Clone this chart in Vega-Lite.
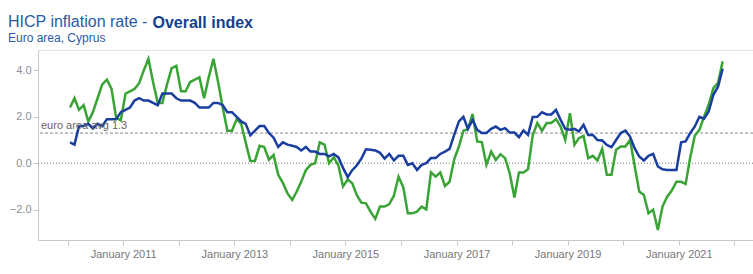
{
  "$schema": "https://vega.github.io/schema/vega-lite/v6.json",
  "width": 715,
  "height": 190,
  "autosize": {"type": "none"},
  "padding": {"left": 38, "top": 50, "right": 0, "bottom": 34},
  "background": "white",
  "config": {"font": "Liberation Sans", "view": {"stroke": "#e3e3e3"}},
  "title": {
    "text": "HICP inflation rate -",
    "subtitle": "Euro area, Cyprus",
    "anchor": "start",
    "frame": "group",
    "dx": -30,
    "dy": 30,
    "offset": 0,
    "font": "Liberation Sans",
    "fontSize": 16,
    "fontWeight": "normal",
    "color": "#2a5aa8",
    "subtitleFont": "Liberation Sans",
    "subtitleFontSize": 12,
    "subtitleColor": "#2a5aa8",
    "subtitlePadding": 3
  },
  "data": {"values": [
    {"m": "2010-01", "ea": 0.9, "cy": 2.4},
    {"m": "2010-02", "ea": 0.8, "cy": 2.8},
    {"m": "2010-03", "ea": 1.6, "cy": 2.3},
    {"m": "2010-04", "ea": 1.6, "cy": 2.5},
    {"m": "2010-05", "ea": 1.7, "cy": 1.8},
    {"m": "2010-06", "ea": 1.5, "cy": 2.2},
    {"m": "2010-07", "ea": 1.7, "cy": 2.8},
    {"m": "2010-08", "ea": 1.6, "cy": 3.4},
    {"m": "2010-09", "ea": 1.9, "cy": 3.6},
    {"m": "2010-10", "ea": 1.9, "cy": 3.2},
    {"m": "2010-11", "ea": 1.9, "cy": 1.95},
    {"m": "2010-12", "ea": 2.2, "cy": 1.85},
    {"m": "2011-01", "ea": 2.3, "cy": 3.0},
    {"m": "2011-02", "ea": 2.4, "cy": 3.1},
    {"m": "2011-03", "ea": 2.7, "cy": 3.2},
    {"m": "2011-04", "ea": 2.8, "cy": 3.45},
    {"m": "2011-05", "ea": 2.7, "cy": 4.0},
    {"m": "2011-06", "ea": 2.7, "cy": 4.5},
    {"m": "2011-07", "ea": 2.6, "cy": 3.5},
    {"m": "2011-08", "ea": 2.5, "cy": 2.6},
    {"m": "2011-09", "ea": 3.0, "cy": 2.6},
    {"m": "2011-10", "ea": 3.0, "cy": 3.4},
    {"m": "2011-11", "ea": 3.0, "cy": 4.1},
    {"m": "2011-12", "ea": 2.8, "cy": 4.2},
    {"m": "2012-01", "ea": 2.7, "cy": 3.1},
    {"m": "2012-02", "ea": 2.7, "cy": 3.1},
    {"m": "2012-03", "ea": 2.7, "cy": 3.5},
    {"m": "2012-04", "ea": 2.6, "cy": 3.6},
    {"m": "2012-05", "ea": 2.4, "cy": 3.7},
    {"m": "2012-06", "ea": 2.4, "cy": 2.8},
    {"m": "2012-07", "ea": 2.4, "cy": 3.7},
    {"m": "2012-08", "ea": 2.6, "cy": 4.5},
    {"m": "2012-09", "ea": 2.6, "cy": 3.5},
    {"m": "2012-10", "ea": 2.5, "cy": 2.4},
    {"m": "2012-11", "ea": 2.2, "cy": 1.4},
    {"m": "2012-12", "ea": 2.2, "cy": 1.4},
    {"m": "2013-01", "ea": 2.0, "cy": 1.9},
    {"m": "2013-02", "ea": 1.8, "cy": 1.7},
    {"m": "2013-03", "ea": 1.7, "cy": 0.9},
    {"m": "2013-04", "ea": 1.2, "cy": 0.1},
    {"m": "2013-05", "ea": 1.4, "cy": 0.1},
    {"m": "2013-06", "ea": 1.6, "cy": 0.75},
    {"m": "2013-07", "ea": 1.6, "cy": 0.7},
    {"m": "2013-08", "ea": 1.3, "cy": 0.15},
    {"m": "2013-09", "ea": 1.1, "cy": 0.35},
    {"m": "2013-10", "ea": 0.7, "cy": -0.5},
    {"m": "2013-11", "ea": 0.9, "cy": -0.85},
    {"m": "2013-12", "ea": 0.8, "cy": -1.3},
    {"m": "2014-01", "ea": 0.75, "cy": -1.58},
    {"m": "2014-02", "ea": 0.7, "cy": -1.22},
    {"m": "2014-03", "ea": 0.55, "cy": -0.8},
    {"m": "2014-04", "ea": 0.7, "cy": -0.3},
    {"m": "2014-05", "ea": 0.5, "cy": -0.07},
    {"m": "2014-06", "ea": 0.5, "cy": 0.0},
    {"m": "2014-07", "ea": 0.4, "cy": 0.9},
    {"m": "2014-08", "ea": 0.4, "cy": 0.8},
    {"m": "2014-09", "ea": 0.3, "cy": 0.0},
    {"m": "2014-10", "ea": 0.4, "cy": 0.26},
    {"m": "2014-11", "ea": 0.25, "cy": -0.1},
    {"m": "2014-12", "ea": -0.2, "cy": -1.0},
    {"m": "2015-01", "ea": -0.6, "cy": -0.7},
    {"m": "2015-02", "ea": -0.3, "cy": -0.86},
    {"m": "2015-03", "ea": -0.1, "cy": -1.37},
    {"m": "2015-04", "ea": 0.2, "cy": -1.7},
    {"m": "2015-05", "ea": 0.6, "cy": -1.73},
    {"m": "2015-06", "ea": 0.58, "cy": -2.1},
    {"m": "2015-07", "ea": 0.55, "cy": -2.4},
    {"m": "2015-08", "ea": 0.45, "cy": -1.87},
    {"m": "2015-09", "ea": 0.2, "cy": -1.87},
    {"m": "2015-10", "ea": 0.4, "cy": -1.76},
    {"m": "2015-11", "ea": 0.12, "cy": -1.4},
    {"m": "2015-12", "ea": 0.32, "cy": -0.58},
    {"m": "2016-01", "ea": 0.32, "cy": -1.04},
    {"m": "2016-02", "ea": -0.07, "cy": -2.16},
    {"m": "2016-03", "ea": 0.0, "cy": -2.16},
    {"m": "2016-04", "ea": -0.29, "cy": -2.09},
    {"m": "2016-05", "ea": -0.07, "cy": -1.87},
    {"m": "2016-06", "ea": 0.0, "cy": -1.99},
    {"m": "2016-07", "ea": 0.22, "cy": -0.39},
    {"m": "2016-08", "ea": 0.22, "cy": -0.58},
    {"m": "2016-09", "ea": 0.4, "cy": -0.4},
    {"m": "2016-10", "ea": 0.5, "cy": -0.98},
    {"m": "2016-11", "ea": 0.62, "cy": -0.8},
    {"m": "2016-12", "ea": 1.22, "cy": 0.17},
    {"m": "2017-01", "ea": 1.8, "cy": 0.72},
    {"m": "2017-02", "ea": 2.0, "cy": 1.4},
    {"m": "2017-03", "ea": 1.48, "cy": 1.47},
    {"m": "2017-04", "ea": 1.87, "cy": 2.12},
    {"m": "2017-05", "ea": 1.44, "cy": 0.94},
    {"m": "2017-06", "ea": 1.3, "cy": 0.91},
    {"m": "2017-07", "ea": 1.3, "cy": -0.07},
    {"m": "2017-08", "ea": 1.48, "cy": 0.5},
    {"m": "2017-09", "ea": 1.58, "cy": 0.14},
    {"m": "2017-10", "ea": 1.44, "cy": 0.39},
    {"m": "2017-11", "ea": 1.51, "cy": 0.22},
    {"m": "2017-12", "ea": 1.32, "cy": -0.43},
    {"m": "2018-01", "ea": 1.32, "cy": -1.48},
    {"m": "2018-02", "ea": 1.12, "cy": -0.4},
    {"m": "2018-03", "ea": 1.41, "cy": -0.4},
    {"m": "2018-04", "ea": 1.22, "cy": -0.26},
    {"m": "2018-05", "ea": 1.99, "cy": 1.2},
    {"m": "2018-06", "ea": 2.0, "cy": 1.73},
    {"m": "2018-07", "ea": 2.2, "cy": 1.4},
    {"m": "2018-08", "ea": 2.1, "cy": 1.73},
    {"m": "2018-09", "ea": 2.1, "cy": 1.73},
    {"m": "2018-10", "ea": 2.3, "cy": 1.9},
    {"m": "2018-11", "ea": 1.87, "cy": 1.58},
    {"m": "2018-12", "ea": 1.48, "cy": 1.0},
    {"m": "2019-01", "ea": 1.44, "cy": 2.16},
    {"m": "2019-02", "ea": 1.48, "cy": 0.79},
    {"m": "2019-03", "ea": 1.37, "cy": 1.08},
    {"m": "2019-04", "ea": 1.66, "cy": 1.18},
    {"m": "2019-05", "ea": 1.22, "cy": 0.22},
    {"m": "2019-06", "ea": 1.22, "cy": 0.32},
    {"m": "2019-07", "ea": 1.0, "cy": 0.12},
    {"m": "2019-08", "ea": 0.98, "cy": 0.62},
    {"m": "2019-09", "ea": 0.79, "cy": -0.5},
    {"m": "2019-10", "ea": 0.69, "cy": -0.5},
    {"m": "2019-11", "ea": 1.0, "cy": 0.58},
    {"m": "2019-12", "ea": 1.3, "cy": 0.72},
    {"m": "2020-01", "ea": 1.41, "cy": 0.72},
    {"m": "2020-02", "ea": 1.15, "cy": 1.0},
    {"m": "2020-03", "ea": 0.65, "cy": -0.1},
    {"m": "2020-04", "ea": 0.29, "cy": -1.22},
    {"m": "2020-05", "ea": 0.12, "cy": -1.37},
    {"m": "2020-06", "ea": 0.32, "cy": -2.16},
    {"m": "2020-07", "ea": 0.4, "cy": -2.0},
    {"m": "2020-08", "ea": -0.14, "cy": -2.88},
    {"m": "2020-09", "ea": -0.26, "cy": -1.87},
    {"m": "2020-10", "ea": -0.29, "cy": -1.44},
    {"m": "2020-11", "ea": -0.29, "cy": -1.18},
    {"m": "2020-12", "ea": -0.29, "cy": -0.8},
    {"m": "2021-01", "ea": 0.9, "cy": -0.8},
    {"m": "2021-02", "ea": 0.94, "cy": -0.89},
    {"m": "2021-03", "ea": 1.3, "cy": 0.22},
    {"m": "2021-04", "ea": 1.58, "cy": 1.18},
    {"m": "2021-05", "ea": 2.0, "cy": 1.44},
    {"m": "2021-06", "ea": 1.92, "cy": 2.0},
    {"m": "2021-07", "ea": 2.23, "cy": 2.52},
    {"m": "2021-08", "ea": 2.95, "cy": 3.24},
    {"m": "2021-09", "ea": 3.3, "cy": 3.46},
    {"m": "2021-10", "ea": 4.07, "cy": 4.39}
  ]},
  "layer": [
    {
      "data": {"values": [{"v": 0}]},
      "mark": {"type": "rule", "color": "#777777", "strokeWidth": 1, "strokeDash": [1, 2]},
      "encoding": {"y": {"field": "v", "type": "quantitative"}}
    },
    {
      "data": {"values": [{"v": 1.3}]},
      "mark": {"type": "rule", "color": "#888888", "strokeWidth": 1, "strokeDash": [3, 2]},
      "encoding": {"y": {"field": "v", "type": "quantitative"}}
    },
    {
      "mark": {"type": "line", "color": "#3aa336", "strokeWidth": 2.5},
      "encoding": {
        "x": {
          "field": "m", "type": "temporal", "timeUnit": "utcyearmonth", "bandPosition": 0.5,
          "scale": {"domain": [{"year": 2009, "month": 6, "date": 20, "utc": true}, {"year": 2022, "month": 5, "date": 4, "utc": true}]},
          "axis": {
            "values": [
              {"year": 2010, "month": 1, "date": 1, "utc": true},
              {"year": 2011, "month": 1, "date": 1, "utc": true},
              {"year": 2012, "month": 1, "date": 1, "utc": true},
              {"year": 2013, "month": 1, "date": 1, "utc": true},
              {"year": 2014, "month": 1, "date": 1, "utc": true},
              {"year": 2015, "month": 1, "date": 1, "utc": true},
              {"year": 2016, "month": 1, "date": 1, "utc": true},
              {"year": 2017, "month": 1, "date": 1, "utc": true},
              {"year": 2018, "month": 1, "date": 1, "utc": true},
              {"year": 2019, "month": 1, "date": 1, "utc": true},
              {"year": 2020, "month": 1, "date": 1, "utc": true},
              {"year": 2021, "month": 1, "date": 1, "utc": true},
              {"year": 2022, "month": 1, "date": 1, "utc": true}
            ],
            "labelExpr": "utcyear(datum.value) % 2 == 1 ? utcFormat(datum.value, '%B %Y') : ''",
            "title": null, "grid": false, "tickSize": 5, "tickColor": "#c8c8c8", "domainColor": "#c8c8c8",
            "labelFontSize": 11, "labelColor": "#777777", "labelPadding": 3, "labelOverlap": false, "labelFlush": false
          }
        },
        "y": {
          "field": "cy", "type": "quantitative",
          "scale": {"domain": [-3.31, 4.88], "nice": false, "zero": false},
          "axis": {
            "values": [-2, 0, 2, 4], "format": ".1f", "grid": false,
            "title": "Overall index", "titleAngle": 0, "titleAlign": "left", "titleBaseline": "alphabetic",
            "titleX": 114, "titleY": -22.7, "titleFontSize": 16, "titleFontWeight": "bold", "titleColor": "#123f8f", "titleFont": "Liberation Sans",
            "labelFontSize": 11, "labelColor": "#8a8f9c", "tickSize": 5, "tickColor": "#c8c8c8", "domainColor": "#c8c8c8", "labelPadding": 2
          }
        }
      }
    },
    {
      "mark": {"type": "line", "color": "#1a3e9f", "strokeWidth": 2.5},
      "encoding": {
        "x": {"field": "m", "type": "temporal", "timeUnit": "utcyearmonth", "bandPosition": 0.5},
        "y": {"field": "ea", "type": "quantitative"}
      }
    },
    {
      "data": {"values": [{"v": 1.3, "t": "euro area avg 1.3"}]},
      "mark": {"type": "text", "align": "left", "baseline": "alphabetic", "dx": 3, "dy": -4, "fontSize": 11, "color": "#666666", "font": "Liberation Sans"},
      "encoding": {
        "x": {"datum": {"year": 2009, "month": 6, "date": 20, "utc": true}, "type": "temporal"},
        "y": {"field": "v", "type": "quantitative"},
        "text": {"field": "t"}
      }
    }
  ]
}
